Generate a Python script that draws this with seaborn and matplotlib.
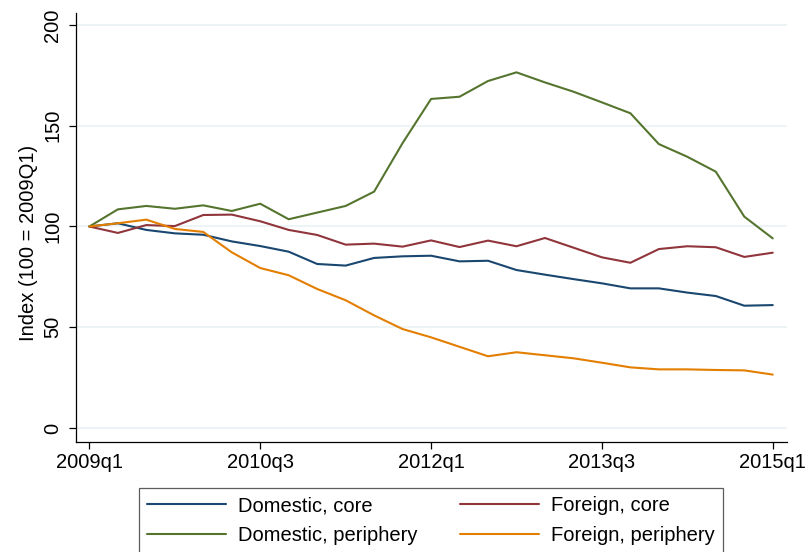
import numpy as np
import pandas as pd
import seaborn as sns
import matplotlib.pyplot as plt
from matplotlib.lines import Line2D

# quarters 2009q1 .. 2015q1
quarters = [f"{y}q{q}" for y in range(2009, 2016) for q in range(1, 5)][:25]

domestic_core = [100, 101.6, 98.3, 96.6, 95.9, 92.6, 90.3, 87.5, 81.4, 80.6,
                 84.4, 85.2, 85.5, 82.7, 83.0, 78.4, 76.1, 73.9, 71.8, 69.3,
                 69.3, 67.2, 65.5, 60.7, 61.0]
foreign_core = [100, 96.8, 100.7, 100.2, 105.7, 105.9, 102.6, 98.3, 95.8, 91.0,
                91.5, 90.0, 93.1, 89.8, 93.0, 90.2, 94.3, 89.5, 84.7, 82.0,
                88.8, 90.2, 89.7, 84.9, 87.0]
domestic_periphery = [100, 108.5, 110.2, 108.8, 110.5, 107.7, 111.3, 103.6, 106.9, 110.2,
                      117.3, 141.4, 163.3, 164.4, 172.2, 176.5, 171.5, 166.9, 161.6, 156.2,
                      140.9, 134.6, 127.2, 104.9, 94.1]
foreign_periphery = [100, 101.6, 103.4, 98.8, 97.3, 87.2, 79.4, 75.8, 69.0, 63.4,
                     55.9, 49.1, 45.0, 40.3, 35.6, 37.6, 36.1, 34.6, 32.4, 30.1,
                     29.1, 29.1, 28.8, 28.6, 26.5]

series = {
    "Domestic, core": domestic_core,
    "Foreign, core": foreign_core,
    "Domestic, periphery": domestic_periphery,
    "Foreign, periphery": foreign_periphery,
}
colors = {
    "Domestic, core": "#1a476f",
    "Foreign, core": "#90353b",
    "Domestic, periphery": "#55752f",
    "Foreign, periphery": "#e37e00",
}

df = pd.concat([
    pd.DataFrame({"t": np.arange(len(quarters)), "value": v, "group": k})
    for k, v in series.items()
])

sns.set_style("white")
plt.rcParams["font.family"] = ["Liberation Sans", "DejaVu Sans"]
plt.rcParams["text.color"] = "black"
plt.rcParams["axes.labelcolor"] = "black"
plt.rcParams["xtick.color"] = "black"
plt.rcParams["ytick.color"] = "black"

fig = plt.figure(figsize=(8.11, 5.52), dpi=100)
ax = fig.add_axes([0.0937, 0.1998, 0.8767, 0.7772])

for y in [0, 50, 100, 150, 200]:
    ax.axhline(y, color="#eaf2f3", lw=1.2, zorder=0)

sns.lineplot(data=df, x="t", y="value", hue="group", hue_order=list(series),
             palette=colors, linewidth=1.5, legend=False, ax=ax)

ax.set_xlim(-0.47, 24.5)
ax.set_ylim(-6.8, 206.1)
tick_pos = [0, 6, 12, 18, 24]
ax.set_xticks(tick_pos)
ax.set_xticklabels([quarters[i] for i in tick_pos], fontsize=14.5)
ax.set_yticks([0, 50, 100, 150, 200])
ax.set_yticklabels(["0", "50", "100", "150", "200"], fontsize=14.5,
                   rotation=90, va="center")
ax.tick_params(axis="both", direction="out", length=5, width=0.9, color="black",
               bottom=True, left=True)
ax.tick_params(axis="x", pad=3)
ax.tick_params(axis="y", pad=5)
ax.set_xlabel("")
ax.set_ylabel("Index (100 = 2009Q1)", fontsize=14.5)
ax.yaxis.set_label_coords(-0.054, 0.463)

sns.despine(ax=ax)
for s in ["left", "bottom"]:
    ax.spines[s].set_color("black")
    ax.spines[s].set_linewidth(0.9)

order = ["Domestic, core", "Domestic, periphery", "Foreign, core", "Foreign, periphery"]
handles = [Line2D([], [], color=colors[k], lw=1.5) for k in order]
leg = fig.legend(handles, order, loc="upper left", ncol=2, mode="expand",
                 bbox_to_anchor=(0.1714, -0.2, 0.72, 0.3159),
                 bbox_transform=fig.transFigure, fontsize=14.5,
                 handlelength=3.9, handletextpad=0.6, labelspacing=0.55,
                 frameon=True, fancybox=False, borderpad=0.4, borderaxespad=0)
leg.get_frame().set_edgecolor("#333333")
leg.get_frame().set_linewidth(0.9)

fig.savefig("out.png", dpi=100)
